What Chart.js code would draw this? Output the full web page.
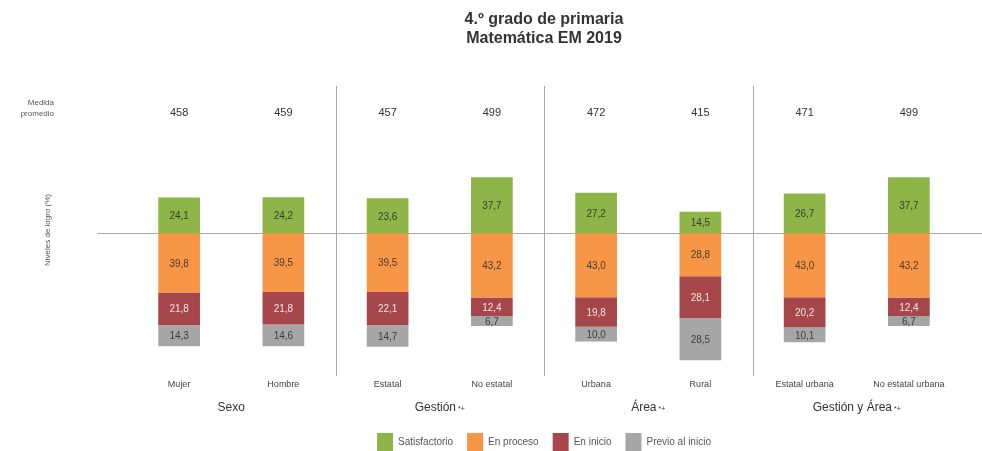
<!DOCTYPE html>
<html>
<head>
<meta charset="utf-8">
<title>Matemática EM 2019</title>
<script src="https://cdn.jsdelivr.net/npm/chart.js@4.4.1/dist/chart.umd.min.js"></script>
<style>
    html, body
    {
        margin: 0;
        padding: 0;
        background: #fff;
    }

    #wrap
    {
        width: 982px;
        height: 451px;
    }
</style>
</head>
<body>
<div id="wrap"><canvas id="chart" width="982" height="451"></canvas></div>
<script>
const categories = ["Mujer", "Hombre", "Estatal", "No estatal", "Urbana", "Rural", "Estatal urbana", "No estatal urbana"];
const groupNames = ["Sexo", "Gestión", "Área", "Gestión y Área"];
const groupMarks = ["", "*+", "*+", "*+"];
const medidaPromedio = [458, 459, 457, 499, 472, 415, 471, 499];

const satisfactorio = [24.1, 24.2, 23.6, 37.7, 27.2, 14.5, 26.7, 37.7];
const enProceso = [39.8, 39.5, 39.5, 43.2, 43.0, 28.8, 43.0, 43.2];
const enInicio = [21.8, 21.8, 22.1, 12.4, 19.8, 28.1, 20.2, 12.4];
const previoInicio = [14.3, 14.6, 14.7, 6.7, 10.0, 28.5, 10.1, 6.7];

const FONT = "'Liberation Sans', Arial, sans-serif";

const seriesStyle =
[
    { label: "Satisfactorio", color: "#8db548", text: "#3b3b2e", sign: 1, data: satisfactorio },
    { label: "En proceso", color: "#f79646", text: "#4a3a2c", sign: -1, data: enProceso },
    { label: "En inicio", color: "#a5464b", text: "#f6e4e4", sign: -1, data: enInicio },
    { label: "Previo al inicio", color: "#a6a6a6", text: "#3c3c3c", sign: -1, data: previoInicio }
];

function formatValue(value)
{
    return value.toFixed(1).replace(".", ",");
}

// texts, separators and the zero line around the bars
const decorPlugin =
{
    id: "decor",
    beforeDatasetsDraw(chart)
    {
        const ctx = chart.ctx;
        const x = chart.scales.x;
        const y = chart.scales.y;
        const zero = Math.round(y.getPixelForValue(0));

        ctx.save();

        ctx.strokeStyle = "#a8a8a8";
        ctx.lineWidth = 1;
        ctx.beginPath();
        ctx.moveTo(97, zero + 0.5);
        ctx.lineTo(chart.width, zero + 0.5);
        ctx.stroke();

        for (let i = 1; i < groupNames.length; i++)
        {
            const sx = Math.round((x.getPixelForValue(i * 2 - 1) + x.getPixelForValue(i * 2)) / 2) + 0.5;
            ctx.beginPath();
            ctx.moveTo(sx, 86);
            ctx.lineTo(sx, 376);
            ctx.stroke();
        }

        ctx.restore();
    },
    afterDatasetsDraw(chart)
    {
        const ctx = chart.ctx;
        const x = chart.scales.x;

        ctx.save();
        ctx.textAlign = "center";
        ctx.textBaseline = "middle";

        // data labels
        ctx.font = "10px " + FONT;
        chart.data.datasets.forEach((dataset, d) =>
        {
            const meta = chart.getDatasetMeta(d);
            meta.data.forEach((bar, i) =>
            {
                ctx.fillStyle = seriesStyle[d].text;
                ctx.fillText(formatValue(Math.abs(dataset.data[i])), bar.x, (bar.y + bar.base) / 2 + 1);
            });
        });

        // medida promedio row
        ctx.fillStyle = "#333";
        ctx.font = "11px " + FONT;
        medidaPromedio.forEach((value, i) =>
        {
            ctx.fillText(String(value), x.getPixelForValue(i), 113);
        });

        ctx.fillStyle = "#555";
        ctx.font = "8px " + FONT;
        ctx.textAlign = "right";
        ctx.fillText("Medida", 54, 103);
        ctx.fillText("promedio", 54, 114);
        ctx.textAlign = "center";

        // y axis title
        ctx.save();
        ctx.translate(48, 230);
        ctx.rotate(-Math.PI / 2);
        ctx.fillText("Niveles de logro (%)", 0, 0);
        ctx.restore();

        // group labels
        groupNames.forEach((name, i) =>
        {
            const gx = (x.getPixelForValue(i * 2) + x.getPixelForValue(i * 2 + 1)) / 2;
            ctx.font = "12px " + FONT;
            ctx.fillStyle = "#333";
            const w = ctx.measureText(name).width;

            if (groupMarks[i])
            {
                ctx.font = "7px " + FONT;
                const mw = ctx.measureText(groupMarks[i]).width;
                const left = gx - (w + mw + 2) / 2;
                ctx.textAlign = "left";
                ctx.font = "12px " + FONT;
                ctx.fillText(name, left, 408);
                ctx.font = "7px " + FONT;
                ctx.fillText(groupMarks[i], left + w + 2, 409);
                ctx.textAlign = "center";
            }
            else
            {
                ctx.fillText(name, gx, 408);
            }
        });

        ctx.restore();
    }
};

Chart.defaults.font.family = FONT;

new Chart(document.getElementById("chart").getContext("2d"),
{
    type: "bar",
    data:
    {
        labels: categories,
        datasets: seriesStyle.map((s) =>
        {
            return {
                label: s.label,
                data: s.data.map((v) => v * s.sign),
                backgroundColor: s.color,
                borderWidth: 0,
                barPercentage: 0.4,
                categoryPercentage: 1.0
            };
        })
    },
    options:
    {
        responsive: false,
        animation: false,
        layout:
        {
            padding:
            {
                left: 127,
                right: 21,
                top: 0,
                bottom: 0
            }
        },
        plugins:
        {
            tooltip:
            {
                enabled: false
            },
            title:
            {
                display: true,
                fullSize: false,
                text: ["4.º grado de primaria", "Matemática EM 2019"],
                color: "#333",
                font:
                {
                    size: 16,
                    weight: "bold"
                },
                padding:
                {
                    top: 10,
                    bottom: 119
                }
            },
            legend:
            {
                display: true,
                position: "bottom",
                fullSize: false,
                maxHeight: 32,
                labels:
                {
                    boxWidth: 16,
                    boxHeight: 18,
                    padding: 14,
                    color: "#555",
                    font:
                    {
                        size: 10
                    }
                }
            }
        },
        scales:
        {
            x:
            {
                stacked: true,
                afterFit(scale)
                {
                    // room for the group labels under the category names
                    scale.height += 17;
                },
                grid:
                {
                    display: false,
                    drawTicks: false
                },
                border:
                {
                    display: false
                },
                ticks:
                {
                    padding: 12,
                    color: "#444",
                    maxRotation: 0,
                    autoSkip: false,
                    font:
                    {
                        size: 9
                    }
                }
            },
            y:
            {
                display: false,
                stacked: true,
                min: -90,
                max: 44.3
            }
        }
    },
    plugins: [decorPlugin]
});
</script>
</body>
</html>
